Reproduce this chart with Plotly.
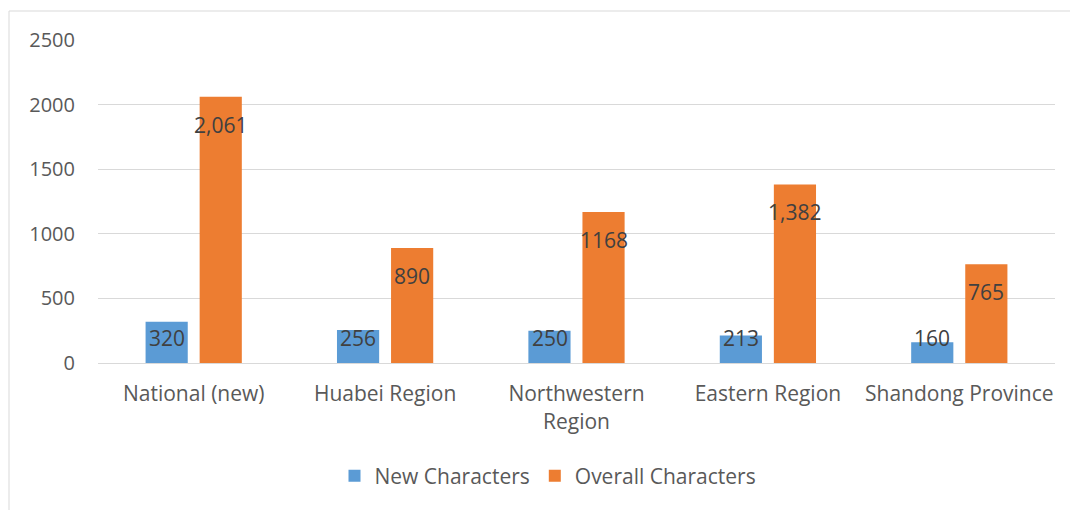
import plotly.graph_objects as go

categories = ["National (new)", "Huabei Region", "Northwestern<br>Region", "Eastern Region", "Shandong Province"]
new_chars = [320, 256, 250, 213, 160]
overall_chars = [2061, 890, 1168, 1382, 765]
new_labels = ["320", "256", "250", "213", "160"]
overall_labels = ["2,061", "890", "1168", "1,382", "765"]
y_ticks = [0, 500, 1000, 1500, 2000, 2500]

BLUE = "#5B9BD5"
ORANGE = "#ED7D31"
FONT = "Open Sans"

W, H = 1070, 510
L, R, T, B = 98, 15, 40, 147
pw, ph = W - L - R, H - T - B

def px_x(p):
    return (p - L) / pw

def px_y(p):
    return (H - B - p) / ph

fig = go.Figure()
fig.add_trace(go.Bar(x=categories, y=new_chars, name="New Characters",
                     marker=dict(color=BLUE, line=dict(width=0))))
fig.add_trace(go.Bar(x=categories, y=overall_chars, name="Overall Characters",
                     marker=dict(color=ORANGE, line=dict(width=0))))

annotations = []
for c, v, t in zip(categories, new_chars, new_labels):
    annotations.append(dict(x=c, y=0, xref="x", yref="y", text=t, showarrow=False,
                            xshift=-27, yshift=25, yanchor="middle",
                            font=dict(family=FONT, size=21, color="#404040")))
for c, v, t in zip(categories, overall_chars, overall_labels):
    annotations.append(dict(x=c, y=v, xref="x", yref="y", text=t, showarrow=False,
                            xshift=27, yshift=-28, yanchor="middle",
                            font=dict(family=FONT, size=21, color="#404040")))

fig.update_layout(
    width=W, height=H,
    margin=dict(l=L, r=R, t=T, b=B),
    paper_bgcolor="white", plot_bgcolor="white",
    barmode="group", bargap=0.435, bargroupgap=0.22,
    font=dict(family=FONT, size=20, color="#595959"),
    showlegend=True,
    legend=dict(orientation="h", x=px_x(548), xanchor="center",
                y=px_y(476), yanchor="middle",
                font=dict(family=FONT, size=21, color="#595959"),
                itemwidth=30, traceorder="normal"),
    annotations=annotations,
    shapes=[
        dict(type="line", xref="paper", yref="paper",
             x0=px_x(9), x1=px_x(1080), y0=px_y(11), y1=px_y(11),
             line=dict(color="#D9D9D9", width=1)),
        dict(type="line", xref="paper", yref="paper",
             x0=px_x(9), x1=px_x(9), y0=px_y(11), y1=px_y(520),
             line=dict(color="#D9D9D9", width=1)),
    ],
)
fig.update_yaxes(range=[0, 2500], tickvals=y_ticks, showgrid=True,
                 gridcolor="#D9D9D9", gridwidth=1, zeroline=False,
                 showline=False, ticks="", ticklabelstandoff=22,
                 tickfont=dict(family=FONT, size=20, color="#595959"))
fig.update_xaxes(showgrid=False, showline=True, linecolor="#D9D9D9", linewidth=1,
                 ticks="", ticklabelstandoff=12,
                 tickfont=dict(family=FONT, size=21, color="#595959"))

fig.write_html("out.html", post_script="document.body.style.margin='0';",
               config={"displayModeBar": False})
